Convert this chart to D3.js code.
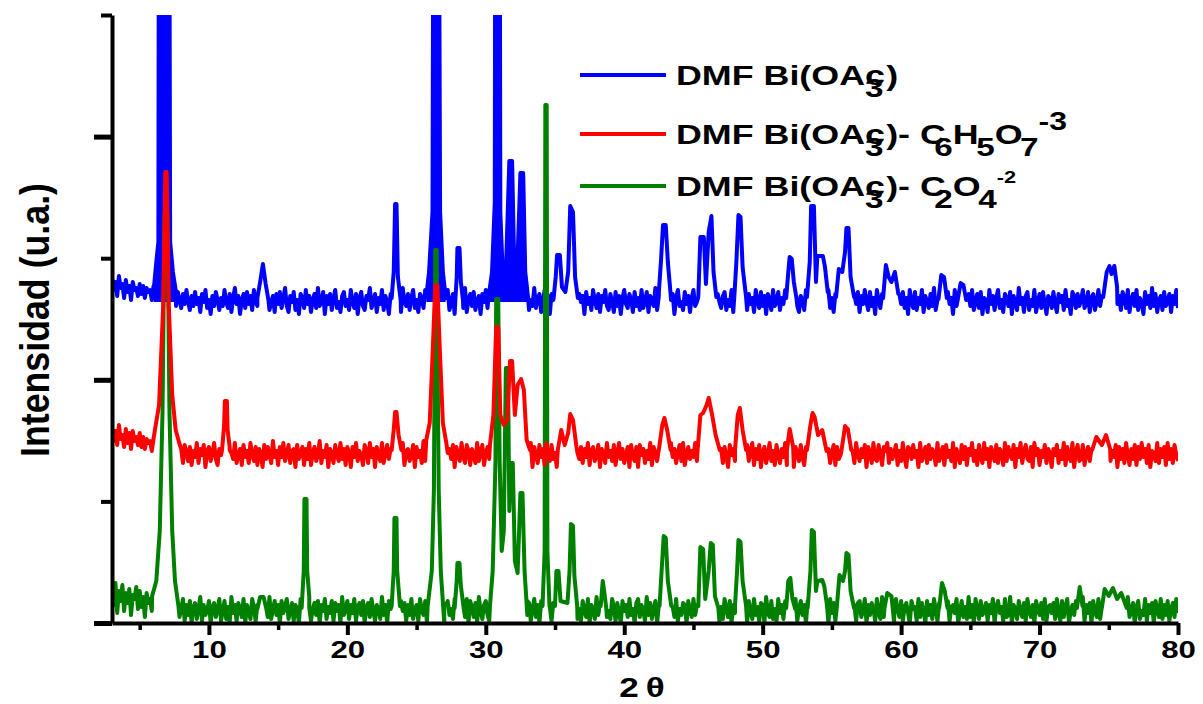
<!DOCTYPE html>
<html>
<head>
<meta charset="utf-8">
<script src="https://cdn.jsdelivr.net/npm/d3@7"></script>
<style>
  body { margin: 0; background: #fff; }
  text { font-family: "Liberation Sans", Arial, sans-serif; font-weight: bold; fill: #000; }
</style>
</head>
<body>
<svg id="chart" width="1203" height="704"></svg>
<script>
// XRD patterns, stacked with a vertical offset (a.u.)
const seriesNames = ['blue', 'red', 'green'];
const seriesColors = ['#0000ff', '#ff0000', '#008000'];
const offsets = [321, 168, 12];

// background noise sampled every 0.125 deg from 3 deg (relative to offset), 2 deg per row
const gridStart = 3, gridStep = 0.125;
const blueNoise = [
  24,12,20,6,26,14,18,4,22,10,16,2,20,12,14,6,
  18,8,16,4,14,10,12,2,16,8,0,0,0,0,0,0,
  0,0,0,4,8,-4,10,2,-6,8,-2,12,0,-8,6,-4,
  10,-2,4,-10,8,0,12,-6,2,-12,6,-4,10,2,-8,4,
  -4,12,0,-6,8,-10,4,14,-2,6,-12,2,8,-6,10,-2,
  6,-8,12,0,-4,10,-14,4,8,-2,12,-8,0,6,-10,8,
  -2,10,-6,4,14,-4,-10,6,0,10,-8,2,-12,8,4,-6,
  12,-2,6,-10,2,8,-6,14,-4,0,10,-12,6,-2,8,-8,
  4,12,-6,0,-10,6,10,-4,2,-8,12,0,-6,8,-12,4,
  10,-4,-8,6,2,14,-6,0,8,-10,4,-2,12,-8,6,0,
  -12,8,2,-6,10,-2,6,-10,14,0,-4,8,-8,4,12,-6,
  2,-10,8,4,-6,12,-2,-8,6,10,-12,2,8,-4,0,10,
  -6,4,12,-8,0,8,-12,6,-2,10,4,-6,14,-10,2,8,
  -4,10,-8,2,6,-12,8,0,12,-6,-2,10,-10,4,8,-4,
  0,12,-6,6,-10,2,10,-2,-8,8,4,-12,12,0,-6,6,
  10,-8,2,-4,14,-6,4,8,-10,0,12,-4,6,-12,8,2,
  -6,8,-2,12,-10,4,0,10,-8,6,-4,14,-2,-10,8,0,
  6,-12,10,-2,4,-8,12,2,-6,8,-10,6,0,12,-4,-8,
  8,0,-10,10,-4,6,-12,4,12,-2,-6,8,2,-10,10,-4,
  4,-8,12,-6,0,10,-10,6,2,-4,14,-8,6,0,-12,8,
  -2,10,-6,2,8,-12,4,12,-4,0,-8,10,-2,6,-10,4,
  12,-4,0,8,-10,6,-2,14,-8,2,10,-6,4,-12,8,0,
  -6,6,10,-8,2,-4,12,-10,4,8,-2,-12,10,0,6,-8,
  8,-2,4,-10,12,0,-6,10,-4,6,-12,8,2,-8,12,-4,
  0,10,-8,4,-2,12,-10,6,8,-6,0,14,-4,-10,6,2,
  -8,12,2,-6,10,-4,6,-12,8,0,-2,10,-8,4,12,-6,
  4,-10,8,0,-4,12,-8,2,10,-6,6,-12,4,8,-2,10,
  -10,6,-2,12,0,-8,10,-4,4,-12,12,2,-6,8,-10,6,
  2,-4,14,-8,6,0,-10,8,-2,10,-6,4,-12,12,0,-6,
  10,-8,4,-2,12,-10,6,0,-6,8,-4,14,-8,2,6,-12,
  8,0,-6,10,-2,4,-12,12,-4,6,-8,2,10,-10,4,8,
  -4,12,-8,0,8,-6,10,-12,4,2,-10,12,-2,6,-8,4,
  12,-6,2,-10,8,4,-4,10,-12,6,0,-8,14,-2,4,-10,
  6,10,-8,2,-4,12,-10,0,8,-6,10,-2,-12,6,4,-6,
  10,-2,-10,8,0,6,-8,12,-4,2,-12,10,6,-6,8,-4,
  2,12,-6,-2,10,-10,4,8,-8,0,12,-4,6,-12,10,2,
  -6,8,0,-10,12,-2,6,-8,10,4,-6,12,-10,2,8,-4,
  12,-8,4,0,-12,10,-2,6,-6,14,-4,8,-10,2,6,-8,
  10,-4,0,8,-10,6,-2,12,-6
];
const redNoise = [
  28,14,24,10,30,16,20,8,26,12,22,6,24,14,18,10,
  22,8,18,6,16,12,14,4,16,10,0,0,0,0,0,0,
  0,0,0,8,12,0,10,-4,6,-8,10,2,-6,8,-10,4,
  -2,12,-8,6,0,10,-12,4,8,-6,2,12,-4,-10,6,0,
  10,-6,4,-12,8,2,-4,12,-8,0,6,-10,10,-2,4,-8,
  12,0,-6,8,-10,6,2,-12,10,-4,8,0,-8,14,-2,4,
  -10,8,-2,12,-6,0,10,-8,4,6,-12,10,-4,2,8,-10,
  6,-4,12,-10,2,8,-6,0,14,-8,4,-2,10,-12,6,2,
  -8,10,0,-6,12,-4,6,-10,8,2,-12,8,-2,12,-6,4,
  0,-10,10,4,-8,12,-2,6,-12,8,0,-6,12,-8,2,10,
  -4,6,-12,10,2,-8,8,-2,12,-10,4,6,-6,0,10,-12,
  8,-2,4,-8,14,-6,0,10,-10,6,-4,12,2,-8,6,-6,
  12,-10,2,6,-4,10,-12,8,0,-6,12,-2,-8,10,4,-10,
  6,0,-8,12,-6,4,10,-10,2,8,-4,-12,12,-2,6,0,
  -10,10,-4,2,12,-8,6,-2,-6,14,-10,4,8,-4,0,10,
  -6,4,12,-12,8,0,-8,10,-2,6,-10,12,0,-6,10,-4,
  2,-12,10,-4,6,8,-8,0,12,-6,4,-10,10,2,-4,8,
  -8,6,-2,12,-10,4,8,-6,0,10,-12,6,2,-8,12,-2,
  4,-6,10,-10,2,12,-4,6,-8,0,8,-12,10,-2,-6,8,
  -12,10,0,6,-8,4,-4,12,-10,8,2,-6,6,-12,10,0,
  8,-4,-10,12,-2,6,-8,2,10,-6,12,-10,0,8,-4,4,
  -2,12,-6,0,10,-12,6,-4,8,2,-8,10,-10,4,12,-6,
  6,-8,8,-2,-12,10,0,6,-6,12,-4,2,-10,8,-2,10,
  -6,4,12,-10,6,-4,10,-12,2,8,-8,0,12,-6,4,-10,
  10,0,-8,6,-2,12,-10,4,-4,10,-12,8,2,-6,10,-2,
  -10,8,4,-6,12,-4,0,10,-8,6,-2,12,-12,4,6,-8,
  2,10,-10,8,-4,0,12,-6,6,-12,10,-2,4,-8,12,0,
  -6,6,-2,10,-12,8,2,-8,12,-4,-6,10,0,-10,8,4,
  12,-8,6,-4,2,10,-10,4,-6,12,-2,-12,8,6,-4,10,
  -2,4,-12,12,-6,0,8,-8,10,-4,6,2,-10,12,-6,0,
  8,-10,10,-2,4,-6,12,-12,6,0,-8,10,-4,8,-10,6,
  0,12,-6,4,-10,10,-2,-8,12,-4,6,-12,8,2,-6,10,
  -8,6,2,-10,12,-6,8,0,-4,10,-12,6,-2,12,-8,4,
  10,-4,-6,8,-12,12,0,6,-10,4,-2,10,-8,6,2,-12,
  6,0,10,-8,4,-4,12,-10,8,-2,-6,12,-12,4,10,-6,
  -4,10,-10,2,8,-6,6,-12,12,0,-8,10,-2,-10,8,2,
  12,-6,4,-2,10,-12,8,-4,6,-8,12,0,-10,6,-4,10,
  -10,8,-4,12,-2,6,-8,10,-12,4,2,-6,12,-8,6,-2,
  8,-10,12,-4,6,-8,10,0,-6
];
const greenNoise = [
  24,6,28,-2,20,10,26,0,18,8,22,-4,16,12,24,2,
  20,4,14,-6,18,8,12,0,16,10,0,0,0,0,0,0,
  0,0,0,-12,4,-10,8,-6,2,12,-10,6,-4,10,-12,4,
  8,-8,2,14,-10,6,-4,0,10,-12,4,8,-6,2,12,-10,
  0,10,-8,4,-12,14,-2,6,-10,8,2,-6,12,-12,6,0,
  -8,12,4,-10,6,-2,10,-12,8,0,-6,14,-8,2,10,-4,
  6,-12,10,-2,4,12,-8,0,8,-10,6,2,-12,12,-4,8,
  -6,4,14,-10,2,8,-4,10,-12,6,0,12,-8,4,-2,10,
  -10,8,0,6,-12,14,-4,2,10,-8,6,-2,12,-10,4,8,
  -4,10,-12,4,8,-6,12,0,-10,6,2,-8,14,-4,6,-12,
  10,2,-8,12,-6,4,-12,10,0,8,-10,6,-4,12,-8,2,
  6,-10,12,0,-4,10,-12,6,8,-6,2,14,-10,4,-2,8,
  -12,6,10,-4,2,-8,12,-2,6,-10,8,0,-6,12,-12,10,
  4,-6,8,-12,14,0,-8,6,10,-4,-10,12,2,-6,8,-2,
  10,-12,4,6,-8,12,-2,-10,8,2,-6,10,-12,6,0,12,
  -4,8,-10,2,12,-6,6,-12,10,0,-8,14,-2,4,-10,8,
  6,-2,12,-10,0,8,-6,10,-12,4,6,-4,12,-8,2,-10,
  10,0,-6,12,-12,6,2,-8,14,-4,8,-10,4,10,-6,0,
  -8,12,4,-10,8,-2,-12,10,0,6,-6,12,-4,2,-12,8,
  12,-6,6,0,-10,14,-4,8,-8,2,10,-12,6,-2,12,-8,
  0,8,-12,10,4,-6,12,-10,2,-4,8,6,-12,10,0,-6,
  12,-4,6,-10,10,-2,0,14,-8,4,-12,8,2,-6,12,-10,
  4,-8,12,2,-6,10,-12,6,-2,12,-10,0,8,-4,6,-12,
  10,0,-8,12,-4,4,-10,8,6,-12,14,-2,-6,10,-8,2,
  -10,12,-2,6,-8,10,0,-12,8,4,-6,12,-10,2,10,-4,
  6,-12,10,-6,0,14,-8,4,-2,10,-10,6,8,-4,-12,12,
  -2,8,-10,4,12,-6,2,-12,10,0,-4,12,-8,6,-10,8,
  10,-6,0,12,-12,6,-4,8,2,-10,12,-2,-8,14,-6,4,
  -8,10,6,-4,-12,12,0,-6,10,-10,4,8,-2,-12,10,2,
  4,-10,12,-6,8,0,-12,10,-4,6,-8,12,2,-10,8,-2,
  12,-4,-8,10,-10,4,6,-2,12,-12,0,10,-6,4,-8,14,
  -6,6,-12,12,2,-8,10,-4,0,8,-10,6,-2,12,-12,4,
  10,-2,4,-10,12,-6,-4,14,-12,6,2,-8,10,0,-6,8,
  -10,12,0,-6,6,-12,10,2,-4,8,-8,12,-10,4,6,-2,
  8,-8,12,-2,-10,10,-6,4,12,-12,0,6,-4,10,-8,2,
  -4,14,-10,6,-2,8,-12,10,0,-6,12,-8,4,-10,8,0,
  10,-6,2,-12,12,-4,6,-8,10,2,-10,14,-6,0,8,-12,
  4,10,-8,0,-4,12,-10,6,-2,8,-12,10,2,-6,12,-8,
  6,-4,10,-10,2,8,-6,12,-2
];

// reflections: [2theta, intensity above offset]; off-scale ones are clipped at the frame
const bluePeaks = [
  [[6.0,10],[6.2,40],[6.35,60],[6.42,800],[7.08,800],[7.2,60],[7.4,30],[7.6,12]],
  [[13.5,4],[13.7,20],[13.9,38],[14.1,18],[14.3,2]],
  [[23.2,4],[23.35,30],[23.45,98],[23.55,98],[23.65,25],[23.85,2]],
  [[25.7,5],[25.9,30],[26.15,90],[26.28,800],[26.52,800],[26.7,90],[26.9,30],[27.1,5]],
  [[27.8,2],[27.9,25],[27.95,54],[28.1,54],[28.2,20],[28.35,2]],
  [[30.2,5],[30.45,30],[30.65,100],[30.72,800],[30.96,800],[31.05,90],[31.25,20],[31.45,30],
   [31.7,141],[31.9,141],[32.05,40],[32.25,25],[32.5,129],[32.7,129],[32.85,30],[33.05,5]],
  [[34.9,4],[35.05,25],[35.15,47],[35.35,47],[35.5,15],[35.75,10],[35.95,30],[36.1,96],[36.3,90],[36.45,25],[36.65,4]],
  [[42.5,10],[42.65,40],[42.8,77],[43.0,77],[43.15,40],[43.35,8]],
  [[45.35,5],[45.5,65],[45.75,65],[45.9,18],[46.1,70],[46.3,86],[46.45,30],[46.65,5]],
  [[47.95,5],[48.1,40],[48.25,87],[48.4,85],[48.55,35],[48.8,5]],
  [[51.7,4],[51.85,30],[51.95,45],[52.1,43],[52.25,20],[52.45,3]],
  [[53.2,5],[53.4,40],[53.5,96],[53.7,96],[53.85,20],[53.95,46],[54.35,46],[54.5,35],[54.7,10]],
  [[55.3,5],[55.5,33],[55.75,30],[55.95,50],[56.05,74],[56.2,74],[56.35,25],[56.6,5]],
  [[58.7,4],[58.9,37],[59.1,25],[59.3,20],[59.55,30],[59.8,8]],
  [[62.7,3],[62.9,27],[63.1,25],[63.3,4]],
  [[64.1,3],[64.3,19],[64.5,17],[64.7,2]],
  [[74.6,5],[74.85,30],[75.05,36],[75.2,28],[75.4,36],[75.6,15]]
];
const redPeaks = [
  [[6.1,25],[6.4,50],[6.7,150],[6.85,283],[6.95,283],[7.1,150],[7.35,60],[7.6,25],[7.9,10]],
  [[10.95,5],[11.1,30],[11.15,54],[11.3,54],[11.35,25],[11.5,5]],
  [[23.2,5],[23.35,25],[23.45,43],[23.55,43],[23.7,20],[23.9,5]],
  [[25.7,15],[25.95,32],[26.15,98],[26.35,170],[26.5,170],[26.7,98],[26.9,32],[27.15,12]],
  [[30.3,10],[30.55,40],[30.75,128],[30.9,128],[31.05,40],[31.3,30],[31.55,35],[31.75,94],[31.9,94],
   [32.1,40],[32.3,70],[32.55,76],[32.75,65],[32.95,15],[33.2,5]],
  [[35.2,5],[35.45,25],[35.7,10],[35.95,22],[36.1,41],[36.3,35],[36.55,8]],
  [[42.5,5],[42.75,30],[42.9,37],[43.1,25],[43.35,5]],
  [[45.3,5],[45.5,40],[45.7,42],[45.95,50],[46.1,57],[46.35,40],[46.6,20],[46.9,5]],
  [[48.0,5],[48.2,40],[48.35,47],[48.55,25],[48.8,5]],
  [[51.75,5],[51.95,26],[52.2,8]],
  [[53.2,5],[53.45,30],[53.6,42],[53.75,38],[54.0,20],[54.3,25],[54.6,5]],
  [[55.7,5],[55.95,29],[56.15,26],[56.4,5]],
  [[73.8,5],[74.1,18],[74.5,10],[74.8,20],[75.1,6]]
];
const greenPeaks = [
  [[5.9,15],[6.2,30],[6.45,80],[6.65,200],[6.8,400],[7.0,400],[7.15,200],[7.35,80],[7.55,30],[7.8,5]],
  [[13.5,2],[13.7,14],[13.95,14],[14.15,2]],
  [[16.7,3],[16.85,40],[16.9,112],[17.05,112],[17.1,40],[17.25,3]],
  [[23.2,5],[23.35,40],[23.4,93],[23.55,93],[23.6,40],[23.8,5]],
  [[25.8,5],[26.1,40],[26.25,120],[26.35,361],[26.45,361],[26.6,120],[26.75,40],[27.0,5]],
  [[27.75,3],[27.9,30],[27.95,48],[28.1,48],[28.2,25],[28.4,3]],
  [[30.3,5],[30.5,40],[30.7,150],[30.75,312],[30.9,312],[31.0,150],[31.15,60],[31.3,80],[31.45,243],
   [31.6,243],[31.7,100],[31.8,148],[31.95,148],[32.1,50],[32.3,38],[32.5,118],[32.65,118],[32.8,40],[33.0,10]],
  [[34.1,5],[34.25,60],[34.3,506],[34.4,506],[34.45,60],[34.6,5]],
  [[35.0,5],[35.1,40],[35.25,40],[35.4,10],[35.9,8],[36.05,40],[36.15,87],[36.3,85],[36.4,35],[36.6,5]],
  [[38.3,5],[38.45,30],[38.55,20],[38.7,3]],
  [[42.55,5],[42.7,40],[42.85,75],[43.0,73],[43.15,30],[43.4,5]],
  [[45.35,5],[45.5,64],[45.7,62],[45.85,12],[46.1,40],[46.25,68],[46.4,66],[46.55,15],[46.8,3]],
  [[48.0,5],[48.15,40],[48.25,71],[48.4,69],[48.55,30],[48.8,5]],
  [[51.7,3],[51.85,30],[52.0,33],[52.15,12],[52.35,2]],
  [[53.25,3],[53.45,40],[53.55,81],[53.7,79],[53.85,20],[53.95,30],[54.3,31],[54.45,25],[54.65,5]],
  [[55.35,3],[55.55,36],[55.8,30],[55.95,40],[56.05,58],[56.2,56],[56.35,20],[56.6,3]],
  [[58.8,3],[59.0,18],[59.3,15],[59.5,3]],
  [[62.75,3],[62.95,28],[63.15,20],[63.35,3]],
  [[72.7,3],[72.9,24],[73.1,5]],
  [[74.5,3],[74.7,22],[75.0,15],[75.3,23],[75.6,12],[75.9,18],[76.3,3]]
];

const xTicks = [5,10,15,20,25,30,35,40,45,50,55,60,65,70,75,80];
const yTicks = [0,121.6,243.2,364.8,486.4,608];

const legendLabels = [
  [['DMF Bi(OAc','n'],['3','over'],[')','n']],
  [['DMF Bi(OAc','n'],['3','over'],[')- C','n'],['6','subC'],['H','n'],['5','sub'],['O','n'],['7','sub'],['-3','sup']],
  [['DMF Bi(OAc','n'],['3','over'],[')- C','n'],['2','subC'],['O','n'],['4','sub'],['-2','supS']]
];

// ---------------------------------------------------------------
const svg = d3.select('#chart');
const margin = { left: 112, right: 25, top: 15, bottom: 81 };
const W = 1203, H = 704;

const x = d3.scaleLinear().domain([3, 80]).range([margin.left, W - margin.right]);
const y = d3.scaleLinear().domain([0, 608]).range([H - margin.bottom, margin.top]);

function buildSeries(noise, peaks, offset) {
  let pts = noise.map((v, i) => [gridStart + i * gridStep, v]);
  peaks.forEach(g => {
    const lo = g[0][0], hi = g[g.length - 1][0];
    pts = pts.filter(p => p[0] <= lo || p[0] >= hi);
  });
  peaks.forEach(g => { pts = pts.concat(g); });
  pts.sort((a, b) => a[0] - b[0]);
  return pts.filter(p => p[0] <= 80).map(p => [p[0], p[1] + offset]);
}

const allPeaks = [bluePeaks, redPeaks, greenPeaks];
const series = [
  buildSeries(blueNoise, bluePeaks, offsets[0]),
  buildSeries(redNoise, redPeaks, offsets[1]),
  buildSeries(greenNoise, greenPeaks, offsets[2])
];

svg.append('defs').append('clipPath').attr('id', 'plot-clip')
  .append('rect')
  .attr('x', x(3)).attr('y', y(608))
  .attr('width', x(80) - x(3)).attr('height', y(0) - y(608));

const line = d3.line().x(d => x(d[0])).y(d => y(d[1]));
const yMax = y.domain()[1];

// blue first, green, then red on top
const plot = svg.append('g').attr('clip-path', 'url(#plot-clip)');
[0, 2, 1].forEach(k => {
  const g = plot.append('g');
  // off-scale reflections show as solid columns (dense data): fill them down to the offset
  const area = d3.area().x(d => x(d[0])).y0(y(offsets[k])).y1(d => y(d[1] + offsets[k]));
  g.selectAll('path.peak')
    .data(allPeaks[k].filter(grp => d3.max(grp, d => d[1]) + offsets[k] > yMax))
    .join('path')
    .attr('class', 'peak')
    .attr('fill', seriesColors[k])
    .attr('d', area);
  g.append('path')
    .datum(series[k])
    .attr('fill', 'none')
    .attr('stroke', seriesColors[k])
    .attr('stroke-width', 4)
    .attr('stroke-linejoin', 'round')
    .attr('d', line);
});

// x axis
const xAxis = svg.append('g')
  .attr('transform', `translate(0,${y(0)})`)
  .call(d3.axisBottom(x).tickValues(xTicks).tickSizeOuter(0)
    .tickFormat(d => d % 10 === 0 ? d : ''));
xAxis.select('.domain').attr('stroke-width', 4);
xAxis.selectAll('.tick line')
  .attr('y2', d => d % 10 === 0 ? 12 : 7)
  .attr('stroke-width', d => d % 10 === 0 ? 4 : 3.5);
xAxis.selectAll('.tick text')
  .attr('y', 35).attr('dy', 0)
  .attr('transform', 'scale(1.3,1)')
  .style('font-size', '24px')
  .style('font-family', '"Liberation Sans", Arial, sans-serif')
  .style('font-weight', 'bold');

// y axis (no labels)
const yAxis = svg.append('g')
  .attr('transform', `translate(${x(3)},0)`)
  .call(d3.axisLeft(y).tickValues(yTicks).tickSizeOuter(0).tickFormat(''));
yAxis.select('.domain').attr('stroke-width', 4);
yAxis.selectAll('.tick line')
  .attr('x2', (d, i) => i % 2 === 0 ? -18 : -11)
  .attr('stroke-width', (d, i) => i % 2 === 0 ? 5 : 4);

// axis titles
svg.append('text')
  .attr('transform', `translate(${(x(3) + x(80)) / 2 - 3},697) scale(1.3,1)`)
  .attr('text-anchor', 'middle')
  .style('font-size', '27px')
  .text('2\u2009θ');

svg.append('text')
  .attr('transform', 'translate(49,320) rotate(-90)')
  .attr('text-anchor', 'middle')
  .attr('textLength', 274)
  .attr('lengthAdjust', 'spacingAndGlyphs')
  .style('font-size', '40px')
  .text('Intensidad (u.a.)');

// legend
const legendRowsY = [75, 134, 186];
const legendOrder = [0, 1, 2];
const roleStyle = {
  n:    { size: 28, shift: 0,   dx: 0 },
  over: { size: 26, shift: 12,  dx: -15.5 },
  subC: { size: 26, shift: 12,  dx: -9 },
  sub:  { size: 26, shift: 12,  dx: -2 },
  sup:  { size: 25, shift: -14, dx: 0 },
  supS: { size: 17, shift: -13, dx: 0 }
};
legendOrder.forEach((k, r) => {
  const ly = legendRowsY[r];
  svg.append('line')
    .attr('x1', 580).attr('x2', 666)
    .attr('y1', ly).attr('y2', ly)
    .attr('stroke', seriesColors[k])
    .attr('stroke-width', 4);
  const t = svg.append('text')
    .attr('transform', `translate(676,${ly + 10}) scale(1.28,1)`);
  let cur = 0, prevRole = 'n';
  legendLabels[r].forEach(([txt, role]) => {
    const st = roleStyle[role];
    let dx = st.dx;
    if (role === 'n' && prevRole === 'over') dx = 2;
    t.append('tspan')
      .attr('dx', dx)
      .attr('dy', st.shift - cur)
      .style('font-size', st.size + 'px')
      .text(txt);
    cur = st.shift;
    prevRole = role;
  });
});
</script>
</body>
</html>
